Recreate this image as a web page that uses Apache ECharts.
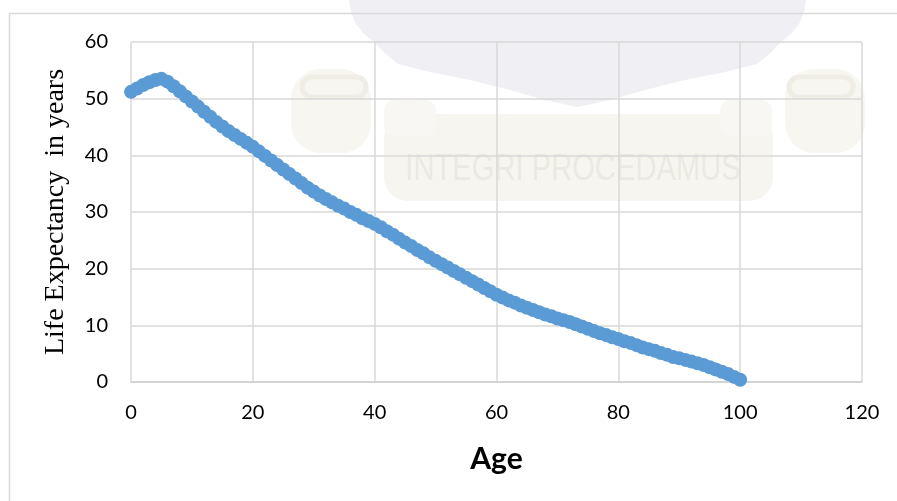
<!DOCTYPE html>
<html>
<head>
<meta charset="utf-8">
<script src="https://cdn.jsdelivr.net/npm/echarts@6/dist/echarts.min.js"></script>
<style>
  html, body { margin: 0; padding: 0; background: #ffffff; }
  #chart { width: 897px; height: 501px; }
</style>
</head>
<body>
<div id="chart"></div>
<script>
// Remaining life expectancy (years) by age
const ages = [
  0, 1, 2, 3, 4, 5, 6, 7, 8, 9,
  10, 11, 12, 13, 14, 15, 16, 17, 18, 19,
  20, 21, 22, 23, 24, 25, 26, 27, 28, 29,
  30, 31, 32, 33, 34, 35, 36, 37, 38, 39,
  40, 41, 42, 43, 44, 45, 46, 47, 48, 49,
  50, 51, 52, 53, 54, 55, 56, 57, 58, 59,
  60, 61, 62, 63, 64, 65, 66, 67, 68, 69,
  70, 71, 72, 73, 74, 75, 76, 77, 78, 79,
  80, 81, 82, 83, 84, 85, 86, 87, 88, 89,
  90, 91, 92, 93, 94, 95, 96, 97, 98, 99,
  100
];
const lifeExpectancy = [
  51.2, 51.8, 52.4, 52.9, 53.3, 53.5, 53.0, 52.2, 51.3, 50.4,
  49.5, 48.6, 47.7, 46.8, 45.9, 45.1, 44.3, 43.6, 42.9, 42.2,
  41.5, 40.7, 39.9, 39.1, 38.3, 37.5, 36.7, 35.9, 35.1, 34.3,
  33.6, 32.9, 32.3, 31.7, 31.1, 30.6, 30.0, 29.5, 28.9, 28.4,
  27.9, 27.3, 26.6, 26.0, 25.3, 24.6, 24.0, 23.3, 22.7, 22.0,
  21.4, 20.8, 20.2, 19.6, 19.0, 18.4, 17.8, 17.2, 16.6, 16.0,
  15.4, 14.9, 14.4, 14.0, 13.5, 13.1, 12.7, 12.3, 11.9, 11.6,
  11.2, 10.9, 10.6, 10.2, 9.8, 9.4, 9.0, 8.6, 8.3, 7.9,
  7.6, 7.2, 6.9, 6.5, 6.1, 5.8, 5.5, 5.1, 4.8, 4.4,
  4.2, 3.9, 3.6, 3.3, 3.0, 2.6, 2.2, 1.8, 1.4, 0.9,
  0.4
];
const xTicks = [0, 20, 40, 60, 80, 100, 120];
const yTicks = [0, 10, 20, 30, 40, 50, 60];

const xAxisTitle = 'Age';
const yAxisTitle = 'Life Expectancy  in years';
const mottoText = 'INTEGRI PROCEDAMUS';

const chart = echarts.init(document.getElementById('chart'), null, { renderer: 'canvas' });

const points = ages.map((a, i) => [a, lifeExpectancy[i]]);

// faint crest outline (left half mirrored around its centre line)
const crestMid = 577.5;
const crestLeft = [[349, 0], [351, 12], [356, 24], [364, 34], [374, 42], [386, 54], [398, 64],
                   [430, 72], [470, 80], [510, 90], [545, 100], [577.5, 107]];
const crestPts = crestLeft.concat(
  crestLeft.slice(0, -1).reverse().map(p => [2 * crestMid - p[0], p[1]])
);

chart.setOption({
  animation: false,
  backgroundColor: '#ffffff',
  grid: { left: 131, right: 35, top: 42, bottom: 119 },
  graphic: [
    // faint crest and motto banner behind the plot
    { type: 'polygon', z: -10, shape: { points: crestPts }, style: { fill: '#efeff4' } },
    { type: 'rect', z: -10, shape: { x: 291, y: 69, width: 80, height: 84, r: 30 },
      style: { fill: '#f7f6f1' } },
    { type: 'rect', z: -10, shape: { x: 785, y: 69, width: 80, height: 84, r: 30 },
      style: { fill: '#f7f6f1' } },
    { type: 'rect', z: -9, shape: { x: 302, y: 77, width: 64, height: 20, r: 10 },
      style: { fill: 'none', stroke: '#efede6', lineWidth: 5 } },
    { type: 'rect', z: -9, shape: { x: 789, y: 77, width: 64, height: 20, r: 10 },
      style: { fill: 'none', stroke: '#efede6', lineWidth: 5 } },
    { type: 'rect', z: -10, shape: { x: 384, y: 114, width: 389, height: 87, r: 24 },
      style: { fill: '#f6f5f0' } },
    { type: 'rect', z: -9, shape: { x: 384, y: 100, width: 52, height: 36, r: 10 },
      style: { fill: '#f8f7f3' } },
    { type: 'rect', z: -9, shape: { x: 720, y: 100, width: 52, height: 36, r: 10 },
      style: { fill: '#f8f7f3' } },
    { type: 'text', z: -8, x: 573, y: 170,
      style: { text: mottoText, fill: '#ebe9e1', font: '36px "Liberation Sans"',
               textAlign: 'center', textVerticalAlign: 'middle' },
      scaleX: 0.81 },
    // chart area frame
    { type: 'rect', z: -5, shape: { x: 9.5, y: 13.5, width: 900, height: 500 },
      style: { fill: 'none', stroke: '#d9d9d9', lineWidth: 1.5 } }
  ],
  xAxis: {
    type: 'value',
    min: xTicks[0],
    max: xTicks[xTicks.length - 1],
    interval: xTicks[1] - xTicks[0],
    name: xAxisTitle,
    nameLocation: 'middle',
    nameGap: 62,
    nameTextStyle: { fontFamily: 'Lato', fontWeight: 'bold', fontSize: 30, color: '#000000' },
    axisLine: { show: true, lineStyle: { color: '#d0d0d0', width: 1.5 } },
    axisTick: { show: false },
    splitLine: { show: true, lineStyle: { color: '#d9d9d9', width: 1.5 } },
    axisLabel: { fontFamily: 'Lato', fontSize: 20, color: '#000000', margin: 21 }
  },
  yAxis: {
    type: 'value',
    min: yTicks[0],
    max: yTicks[yTicks.length - 1],
    interval: yTicks[1] - yTicks[0],
    name: yAxisTitle,
    nameLocation: 'middle',
    nameGap: 61,
    nameRotate: 90,
    nameTextStyle: { fontFamily: 'Liberation Serif', fontSize: 28, color: '#000000' },
    axisLine: { show: false },
    axisTick: { show: false },
    splitLine: { show: true, lineStyle: { color: '#d9d9d9', width: 1.5 } },
    axisLabel: { fontFamily: 'Lato', fontSize: 20, color: '#000000', margin: 23 }
  },
  series: [{
    type: 'scatter',
    data: points,
    symbol: 'circle',
    symbolSize: 14,
    itemStyle: { color: '#5b9bd5', opacity: 1 },
    z: 5
  }]
});
</script>
</body>
</html>
